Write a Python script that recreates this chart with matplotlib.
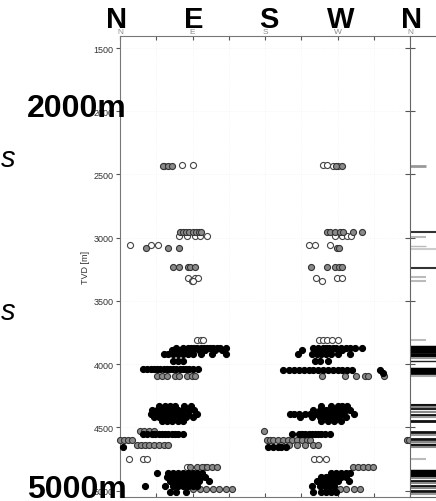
import matplotlib
matplotlib.use("Agg")
import matplotlib.pyplot as plt

plt.rcParams['font.family'] = ['Liberation Sans', 'DejaVu Sans']

# Rows of events: (TVD in m, list of azimuths in degrees)
open_rows = [
    (2425, [77, 91, 252, 257]),
    (2432, [55, 264, 270]),
    (2990, [73, 83, 93, 99, 108, 267, 276, 282, 287]),
    (3057, [13, 38, 47, 234, 242, 261]),
    (3318, [84, 93, 97, 243, 269, 276]),
    (3346, [89, 91, 251]),
    (3806, [96, 100, 103, 247, 252, 257, 263, 271]),
    (4749, [11, 29, 34, 241, 247, 256]),
    (4810, [83, 106]),
]

gray_rows = [
    (2432, [53, 60, 64, 268, 275]),
    (2952, [74, 78, 82, 86, 90, 94, 98, 101, 257, 261, 267, 273, 277, 289, 300]),
    (3081, [32, 60, 73, 269, 272]),
    (3235, [66, 73, 84, 87, 93, 237, 257, 267, 272, 276]),
    (4095, [46, 52, 58, 68, 73, 83, 89, 93, 251, 279, 293, 304, 308, 328]),
    (4528, [25, 30, 36, 42, 179]),
    (4602, [0, 5, 10, 15, 182, 186, 190, 196, 202, 208, 214, 220, 226, 232, 236, 356, 359]),
    (4638, [21, 26, 31, 36, 42, 48, 54, 60, 200, 210, 220, 230, 240, 246]),
    (4815, [87, 95, 102, 108, 114, 120, 289, 296, 302, 308, 314]),
    (4986, [91, 99, 107, 115, 123, 131, 139, 257, 265, 273, 281, 290, 298]),
]

black_rows = [
    (3870, [70, 78, 84, 88, 92, 96, 100, 104, 108, 112, 116, 120, 124, 132]),
    (3890, [64, 74, 80, 86, 90, 98, 106, 118, 126]),
    (3920, [55, 60, 66, 72, 78, 84, 90, 100, 114, 132]),
    (3975, [66, 72, 78]),
    (4040, [29, 34, 38, 42, 46, 50, 54, 58, 62, 66, 70, 74, 78, 82, 86, 90, 97]),
    (3870, [240, 246, 252, 256, 260, 264, 268, 274, 280, 286, 292, 300]),
    (3890, [226, 244, 250, 256, 262, 270, 276]),
    (3920, [221, 238, 244, 250, 256, 262, 270, 285]),
    (3975, [242, 248, 258]),
    (4045, [202, 210, 216, 222, 228, 234, 240, 246, 252, 258, 264, 270, 276, 282, 288, 323]),
    (4070, [326]),
    (4330, [48, 56, 62, 68, 80, 88, 250, 262, 270, 276, 282]),
    (4360, [40, 46, 52, 58, 64, 72, 78, 86, 92, 240, 248, 256, 264, 268, 274, 280, 286]),
    (4390, [38, 44, 50, 56, 62, 70, 76, 84, 96, 211, 216, 222, 230, 236, 244, 252, 260, 268, 276, 290]),
    (4420, [42, 48, 54, 60, 66, 74, 82, 90, 224, 238, 248, 256, 262, 270, 280]),
    (4450, [52, 58, 64, 72, 78, 250, 258, 266, 274]),
    (4551, [29, 34, 40, 44, 48, 52, 56, 60, 64, 68, 72, 78,
            213, 222, 226, 230, 234, 238, 242, 246, 250, 254, 261]),
    (4654, [4, 184, 190, 196, 200, 206]),
    (4860, [46, 60, 66, 72, 78, 84, 90, 96, 102, 262, 268, 274, 280, 286]),
    (4890, [58, 64, 70, 76, 82, 88, 94, 100, 106, 250, 256, 262, 268, 274, 280]),
    (4920, [62, 68, 74, 80, 86, 92, 98, 110, 245, 252, 258, 264, 270, 284]),
    (4960, [31, 56, 66, 72, 78, 84, 90, 96, 238, 248, 254, 260, 266]),
    (5008, [62, 70, 82, 240, 250, 256, 262, 268]),
]

# log track on the right: depth, colour, width, length (fraction of track)
log_depths = [2430, 2955, 2995, 3063, 3089, 3239, 3310, 3342,
              3808, 3866, 3880, 3893, 3920, 3935, 3950, 3975, 4038, 4054, 4070, 4093,
              4322, 4340, 4358, 4378, 4400, 4418, 4446, 4536, 4559,
              4591, 4617, 4638, 4654, 4750,
              4841, 4861, 4881, 4900, 4920, 4939, 4960, 4981, 5000, 5026]
log_colors = ['#999999', '#333333', '#bbbbbb', '#bbbbbb', '#cccccc', '#333333', '#bbbbbb', '#bbbbbb',
              '#bbbbbb', '#000000', '#000000', '#000000', '#000000', '#000000', '#999999', '#222222',
              '#000000', '#000000', '#000000', '#aaaaaa',
              '#111111', '#888888', '#222222', '#888888', '#111111', '#999999', '#111111', '#111111', '#999999',
              '#111111', '#888888', '#111111', '#888888', '#bbbbbb',
              '#000000', '#000000', '#000000', '#888888', '#111111', '#888888', '#111111', '#888888',
              '#111111', '#999999']
log_widths = [2, 1.5, 1.5, 1, 1.5, 1.5, 1.5, 1.5,
              1.5, 2.5, 2.5, 2.5, 2, 2, 1.5, 1, 2.5, 2.5, 2, 1.5,
              1.5, 1.5, 1.5, 1.5, 2, 1.5, 2, 2, 1.5,
              2, 1.5, 2.5, 1.5, 1.5,
              2.5, 2.5, 2.5, 1.5, 2, 1.5, 2, 1.5, 2, 1.5]
log_lengths = [0.6, 1, 0.6, 0.6, 1, 1, 0.6, 0.6,
               0.6, 1, 1, 1, 1, 1, 1, 1, 1, 1, 1, 1,
               1, 1, 1, 1, 1, 1, 1, 1, 1,
               1, 1, 1, 1, 0.6,
               1, 1, 1, 1, 1, 1, 1, 1, 1, 1]

depth_ticks = [1500, 2000, 2500, 3000, 3500, 4000, 4500, 5000]
az_ticks = [0, 45, 90, 135, 180, 225, 270, 315, 360]
az_labels = ['N', '', 'E', '', 'S', '', 'W', '', 'N']


def flatten(rows):
    az, dep = [], []
    for d, azs in rows:
        az += azs
        dep += [d] * len(azs)
    return az, dep


W, H = 436, 502
fig = plt.figure(figsize=(W / 100, H / 100), dpi=100)
ax = fig.add_axes([120 / W, 4 / H, 290 / W, 461 / H])
ax2 = fig.add_axes([410 / W, 4 / H, 26 / W, 461 / H])

ax.grid(True, color='#f2f2f2', lw=0.6, ls=':')
msize = 19
for rows, face, edge in [(open_rows, 'white', '#444444'),
                         (gray_rows, '#8a8a8a', '#333333'),
                         (black_rows, 'black', 'black')]:
    a, d = flatten(rows)
    ax.scatter(a, d, s=msize, facecolor=face, edgecolor=edge, linewidth=0.8,
               zorder=3, clip_on=False)

ax.set_xlim(0, 360)
ax.set_ylim(5050, 1405)
ax.set_xticks(az_ticks)
ax.set_xticklabels(az_labels)
ax.set_yticks(depth_ticks)
ax.tick_params(axis='x', direction='in', top=True, bottom=True, labeltop=True,
               labelbottom=False, length=3, color='#555555', labelsize=6,
               labelcolor='#888888', pad=1)
ax.tick_params(axis='y', direction='out', length=3, color='#555555',
               labelsize=6.5, labelcolor='#333333', pad=1.5)
ax.spines['right'].set_visible(False)
for s in ['left', 'top', 'bottom']:
    ax.spines[s].set_color('#777777')
ax.set_ylabel('TVD [m]', fontsize=6.5, color='#333333', labelpad=3)

ax2.set_ylim(5050, 1405)
ax2.set_xlim(0, 1)
for d, c, lw, ln in zip(log_depths, log_colors, log_widths, log_lengths):
    ax2.plot([0, ln], [d, d], color=c, lw=lw, solid_capstyle='butt')
ax2.set_yticks(depth_ticks)
ax2.set_yticklabels([])
ax2.set_xticks([])
ax2.tick_params(axis='y', direction='inout', length=7, color='#555555')
ax2.spines['right'].set_visible(False)
for s in ['left', 'top', 'bottom']:
    ax2.spines[s].set_color('#666666')

# big annotations
for lab, xp in zip(['N', 'E', 'S', 'W', 'N'], [117, 194, 269, 341, 412]):
    fig.text(xp / W, 1 - 28 / H, lab, ha='center', va='baseline',
             fontsize=21, fontweight='bold')
fig.text(27 / W, 1 - 117 / H, '2000m', ha='left', va='baseline',
         fontsize=23, fontweight='bold')
fig.text(27 / W, 1 - 498 / H, '5000m', ha='left', va='baseline',
         fontsize=23, fontweight='bold')
fig.text(16 / W, 1 - 167 / H, 's', ha='right', va='baseline',
         fontsize=21, style='italic')
fig.text(16 / W, 1 - 320 / H, 's', ha='right', va='baseline',
         fontsize=21, style='italic')

fig.savefig('out.png', dpi=100)
